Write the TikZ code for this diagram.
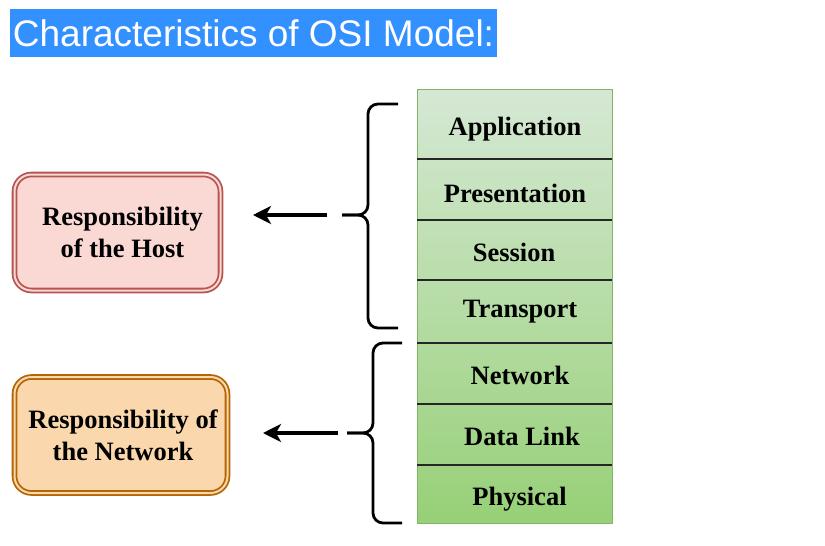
\documentclass[tikz,border=0pt]{standalone}
\usepackage{fontspec}
\setmainfont{Liberation Serif}
\newfontfamily\titlefont{Liberation Sans}
\usepackage{tikz}
\usetikzlibrary{arrows.meta,positioning,shadings}
\definecolor{titleblue}{RGB}{51,144,255}
\definecolor{greentop}{HTML}{D5E8D4}
\definecolor{greenbot}{HTML}{97D077}
\definecolor{greenline}{HTML}{82B366}
\definecolor{hostfill}{HTML}{FAD9D5}
\definecolor{hostline}{HTML}{B85450}
\definecolor{netfill}{HTML}{FAD7AC}
\definecolor{netline}{HTML}{B46504}
\tikzset{
  bigbold/.style={font=\bfseries\fontsize{26.5}{32}\selectfont},
  layertext/.style={bigbold, anchor=base, inner sep=0pt},
  respbox/.style={bigbold, rounded corners=17pt, line width=1.8pt,
    double distance=2pt, minimum width=206pt, minimum height=116pt,
    align=center, inner sep=0pt},
  bracket/.style={line width=2.8pt, rounded corners=10pt},
  pointer/.style={line width=3.2pt, -{Stealth[length=18pt,width=18pt,inset=5pt]}},
  divider/.style={line width=1.3pt, black!85}
}

\begin{document}
\begin{tikzpicture}[x=1pt,y=-1pt]
  \useasboundingbox (0,0) rectangle (825,546);
  % title bar
  \node[fill=titleblue, text=white, font=\titlefont\fontsize{37}{40}\selectfont,
        minimum width=487pt, minimum height=48pt, inner sep=0pt]
        (title) at (253.5,33) {Characteristics of OSI Model:};

  % the seven layers
  \node[draw=greenline, top color=greentop, bottom color=greenbot,
        minimum width=195pt, minimum height=434pt, inner sep=0pt]
        (osi) at (514.5,306) {};
  \foreach \y in {159,220,280,343,404,465}
    \draw[divider] (osi.west |- 0,\y) -- (osi.east |- 0,\y);
  \foreach \name/\txt/\x/\y in {app/Application/515/135, pres/Presentation/515/202,
      sess/Session/514/261, trans/Transport/520/317, net/Network/520/384,
      dlink/Data Link/522/445, phys/Physical/519.5/505}
    \node[layertext] (\name) at (\x,\y) {\txt};

  % responsibility boxes
  \node[respbox, draw=hostline, double=hostfill, fill=hostfill]
        (host) at (117.5,232.5) {\hspace*{10pt}Responsibility\\\hspace*{10pt}of the Host};
  \node[respbox, draw=netline, double=netfill, fill=netfill, minimum width=213pt]
        (network) at (121,435) {\hspace*{4pt}Responsibility of\\\hspace*{4pt}the Network};

  % braces
  \coordinate (hosttip) at (342,215);
  \draw[bracket] (398,104) -- (368,104) -- (368,215) -- (hosttip);
  \draw[bracket] (398,328) -- (368,328) -- (368,215) -- (hosttip);
  \coordinate (nettip) at (347,433);
  \draw[bracket] (402,343) -- (373,343) -- (373,433) -- (nettip);
  \draw[bracket] (402,523) -- (373,523) -- (373,433) -- (nettip);

  % arrows
  \coordinate (hosthead) at (253,215);
  \coordinate (nethead) at (263,433);
  \draw[pointer] ([xshift=-15pt]hosttip) -- (hosthead);
  \draw[pointer] ([xshift=-9pt]nettip) -- (nethead);
\end{tikzpicture}
\end{document}
